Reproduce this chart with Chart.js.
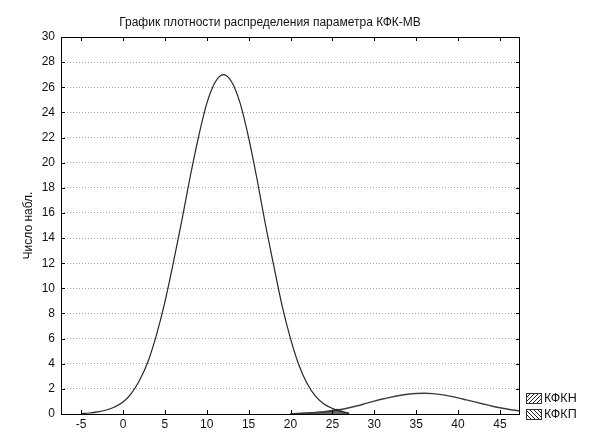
<!DOCTYPE html>
<html>
<head>
<meta charset="utf-8">
<script src="https://cdn.jsdelivr.net/npm/chart.js@4.4.1/dist/chart.umd.min.js"></script>
<style>
    html, body { margin: 0; padding: 0; background: #fff; }
</style>
</head>
<body>
<canvas id="chart" width="589" height="434"></canvas>
<script>
/* globals Chart */

const chartTitle = "График плотности распределения параметра КФК-МВ";
const yTitle = "Число набл.";
const seriesNames = ["КФКН", "КФКП"];

const kfknX = [-5, -4, -3, -2, -1, 0, 1, 2, 3, 4, 5, 6, 7, 8, 9, 10, 11, 12, 13, 14, 15, 16, 17, 18, 19, 20, 21, 22, 23, 24, 25, 26, 27];
const kfknY = [0.04, 0.08, 0.17, 0.32, 0.56, 0.95, 1.65, 2.7, 4.2, 6.3, 8.9, 12.0, 15.3, 18.8, 22.0, 24.7, 26.4, 27.0, 26.4, 24.7, 22.0, 18.7, 15.1, 11.8, 8.6, 6.0, 3.9, 2.4, 1.4, 0.8, 0.45, 0.2, 0.05];

const kfkpX = [20, 21, 22, 23, 24, 25, 26, 27, 28, 29, 30, 31, 32, 33, 34, 35, 36, 37, 38, 39, 40, 41, 42, 43, 44, 45, 46, 47, 48];
const kfkpY = [0.02, 0.04, 0.07, 0.1, 0.15, 0.24, 0.36, 0.5, 0.66, 0.84, 1.02, 1.19, 1.34, 1.47, 1.57, 1.63, 1.65, 1.62, 1.54, 1.42, 1.28, 1.12, 0.96, 0.8, 0.64, 0.5, 0.38, 0.28, 0.2];

const overlapX = [20, 21, 22, 23, 24, 25, 25.6, 26, 27];
const overlapY = [0.03, 0.05, 0.09, 0.14, 0.2, 0.3, 0.38, 0.26, 0.06];

const xTicks = [-5, 0, 5, 10, 15, 20, 25, 30, 35, 40, 45];

const FONT = "'Liberation Sans', Arial, sans-serif";
const toPoints = (xs, ys) => xs.map((x, i) => ({ x, y: ys[i] }));

const canvas = document.getElementById("chart");
const ctx = canvas.getContext("2d");

const hatch = (dir) => {
    const tile = document.createElement("canvas");
    tile.width = 4;
    tile.height = 4;
    const g = tile.getContext("2d");
    g.fillStyle = "#fff";
    g.fillRect(0, 0, 4, 4);
    g.strokeStyle = "#222";
    g.lineWidth = 1;
    g.beginPath();
    if (dir > 0) {
        g.moveTo(0, 4); g.lineTo(4, 0);
    } else {
        g.moveTo(0, 0); g.lineTo(4, 4);
    }
    g.stroke();
    return ctx.createPattern(tile, "repeat");
};
const patterns = [hatch(1), hatch(-1)];

// frame, inner tick marks, title and legend
const decorations = {
    id: "decorations",
    afterDraw(chart) {
        const { ctx: c, chartArea: a, scales } = chart;
        c.save();
        c.strokeStyle = "#000";
        c.lineWidth = 1;
        c.strokeRect(a.left + 0.5, a.top + 0.5, a.right - a.left - 1, a.bottom - a.top);

        c.beginPath();
        scales.x.ticks.forEach((t) => {
            const px = Math.round(scales.x.getPixelForValue(t.value)) + 0.5;
            c.moveTo(px, a.bottom); c.lineTo(px, a.bottom - 4);
            c.moveTo(px, a.top); c.lineTo(px, a.top + 4);
        });
        scales.y.ticks.forEach((t) => {
            const py = Math.round(scales.y.getPixelForValue(t.value)) + 0.5;
            c.moveTo(a.left, py); c.lineTo(a.left + 4, py);
            c.moveTo(a.right, py); c.lineTo(a.right - 4, py);
        });
        c.stroke();

        c.fillStyle = "#111";
        c.font = "12px " + FONT;
        c.textAlign = "center";
        c.textBaseline = "middle";
        c.fillText(chartTitle, 270, 23);

        c.textAlign = "left";
        seriesNames.forEach((name, i) => {
            const cy = a.bottom - 16 + i * 16;
            const bx = a.right + 6;
            c.fillStyle = patterns[i];
            c.fillRect(bx, cy - 5, 16, 11);
            c.strokeStyle = "#333";
            c.strokeRect(bx + 0.5, cy - 4.5, 15, 10);
            c.fillStyle = "#111";
            c.font = "12.5px " + FONT;
            c.fillText(name, bx + 18, cy + 1);
        });
        c.restore();
    }
};

new Chart(canvas, {
    type: "line",
    data: {
        datasets: [
            {
                label: seriesNames[0],
                data: toPoints(kfknX, kfknY),
                borderColor: "#262626",
                borderWidth: 1.2,
                pointRadius: 0,
                cubicInterpolationMode: "monotone",
                fill: false,
                order: 1
            },
            {
                label: seriesNames[1],
                data: toPoints(kfkpX, kfkpY),
                borderColor: "#3c3c3c",
                borderWidth: 1.4,
                pointRadius: 0,
                cubicInterpolationMode: "monotone",
                fill: false,
                order: 1
            },
            {
                label: "overlap",
                data: toPoints(overlapX, overlapY),
                borderColor: "#444",
                backgroundColor: "#686868",
                borderWidth: 1,
                pointRadius: 0,
                cubicInterpolationMode: "monotone",
                fill: "origin",
                order: 2
            }
        ]
    },
    options: {
        responsive: false,
        animation: false,
        layout: { padding: { top: 37, right: 69, left: 0, bottom: 0 } },
        plugins: {
            legend: { display: false },
            title: { display: false },
            tooltip: { enabled: false }
        },
        scales: {
            x: {
                type: "linear",
                min: -7.4,
                max: 47.4,
                afterFit: (scale) => { scale.height = 20; },
                afterBuildTicks: (scale) => { scale.ticks = xTicks.map((v) => ({ value: v })); },
                grid: { display: false, drawTicks: false },
                border: { display: false },
                ticks: {
                    padding: 3,
                    color: "#111",
                    font: { family: FONT, size: 12 }
                }
            },
            y: {
                min: 0,
                max: 30,
                afterFit: (scale) => { scale.width = 61; },
                grid: { color: "#a8a8a8", lineWidth: 1, drawTicks: false },
                border: { display: false, dash: [1, 2] },
                ticks: {
                    stepSize: 2,
                    padding: 6,
                    color: "#111",
                    font: { family: FONT, size: 12 }
                },
                title: {
                    display: true,
                    text: yTitle,
                    color: "#111",
                    font: { family: FONT, size: 12 },
                    padding: { top: 21, bottom: 0 }
                }
            }
        }
    },
    plugins: [decorations]
});
</script>
</body>
</html>
